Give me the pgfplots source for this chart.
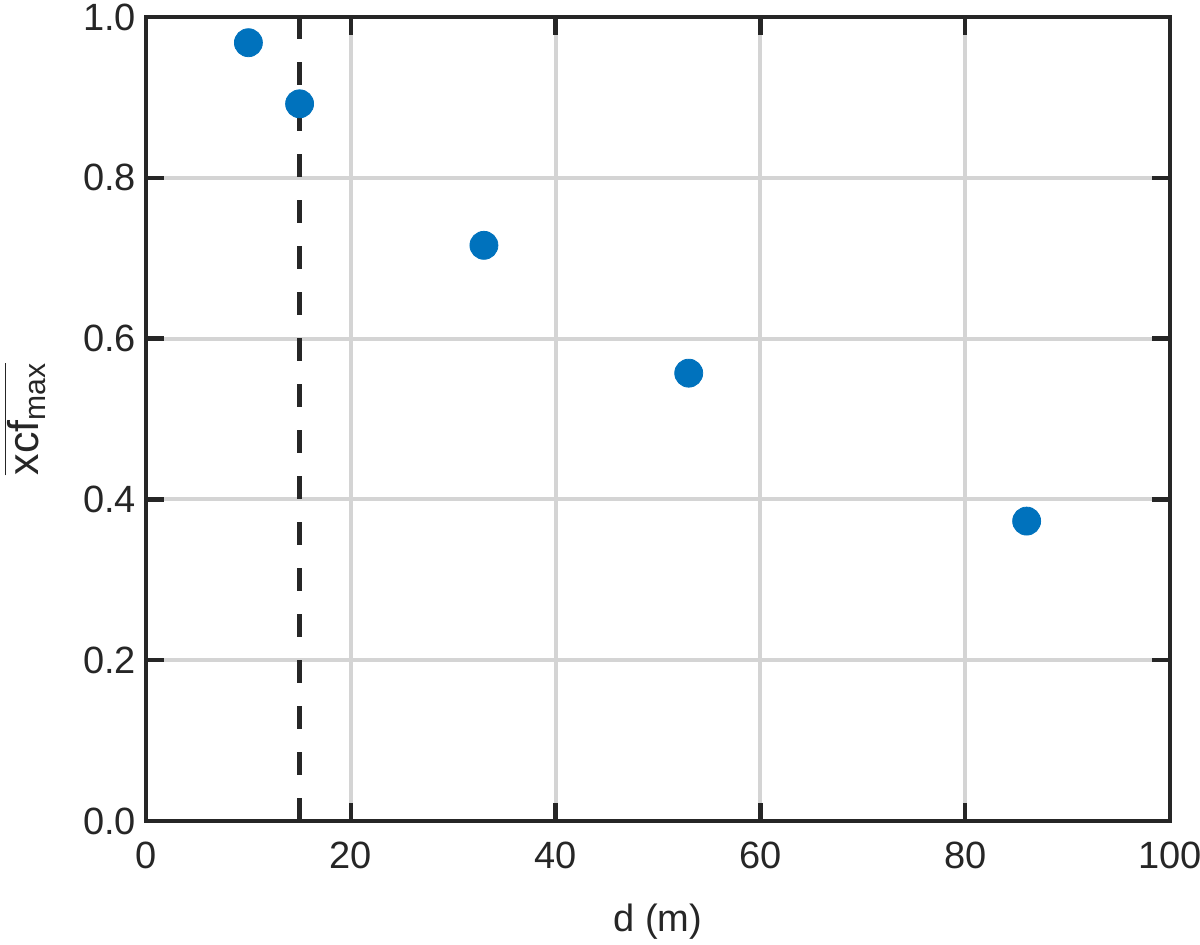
\documentclass[border=0pt]{standalone}
\usepackage{fontspec}
\setmainfont{Liberation Sans}
\usepackage{pgfplots}
\pgfplotsset{compat=1.18}
\definecolor{mblue}{RGB}{0,114,189}
\definecolor{axcol}{RGB}{38,38,38}
\begin{document}
\begin{tikzpicture}
\useasboundingbox (-73pt,-62pt) rectangle (527pt,410.5pt);
\begin{axis}[
  name=ax,
  at={(0,0)}, anchor=south west,
  scale only axis,
  width=512pt, height=402pt,
  xmin=0, xmax=100, ymin=0, ymax=1,
  xtick={0,20,...,100},
  ytick={0,0.2,...,1.0},
  yticklabel style={xshift=-1.5pt, /pgf/number format/.cd,fixed,fixed zerofill,precision=1},
  /pgf/number format/assume math mode=true,
  tick label style={font=\fontsize{19}{22}\selectfont, text=axcol},
  xticklabel style={yshift=-7pt},
  xlabel={d (m)},
  ylabel={$\overline{\mbox{xcf\textsubscript{max}}}$},
  xlabel style={font=\fontsize{19}{22}\selectfont, text=axcol, yshift=-10.5pt},
  ylabel style={font=\fontsize{21.5}{25}\selectfont, text=axcol, yshift=12pt},
  axis line style={axcol, line width=2.2pt},
  tick style={axcol, line width=2.2pt},
  major tick length=9pt,
  tick align=inside,
  grid=major,
  grid style={black!17, line width=2pt},
]
\addplot[only marks, mark=*, mark size=7pt, mblue, mark options={draw=mblue, fill=mblue}]
coordinates {
(10, 0.968)(15, 0.892)(33, 0.716)(53, 0.557)(86, 0.373)};
\addplot[axcol, line width=2.2pt, dash pattern=on 11.5pt off 11.5pt]
coordinates {(15, 0)(15, 1)};
\end{axis}
\end{tikzpicture}
\end{document}
